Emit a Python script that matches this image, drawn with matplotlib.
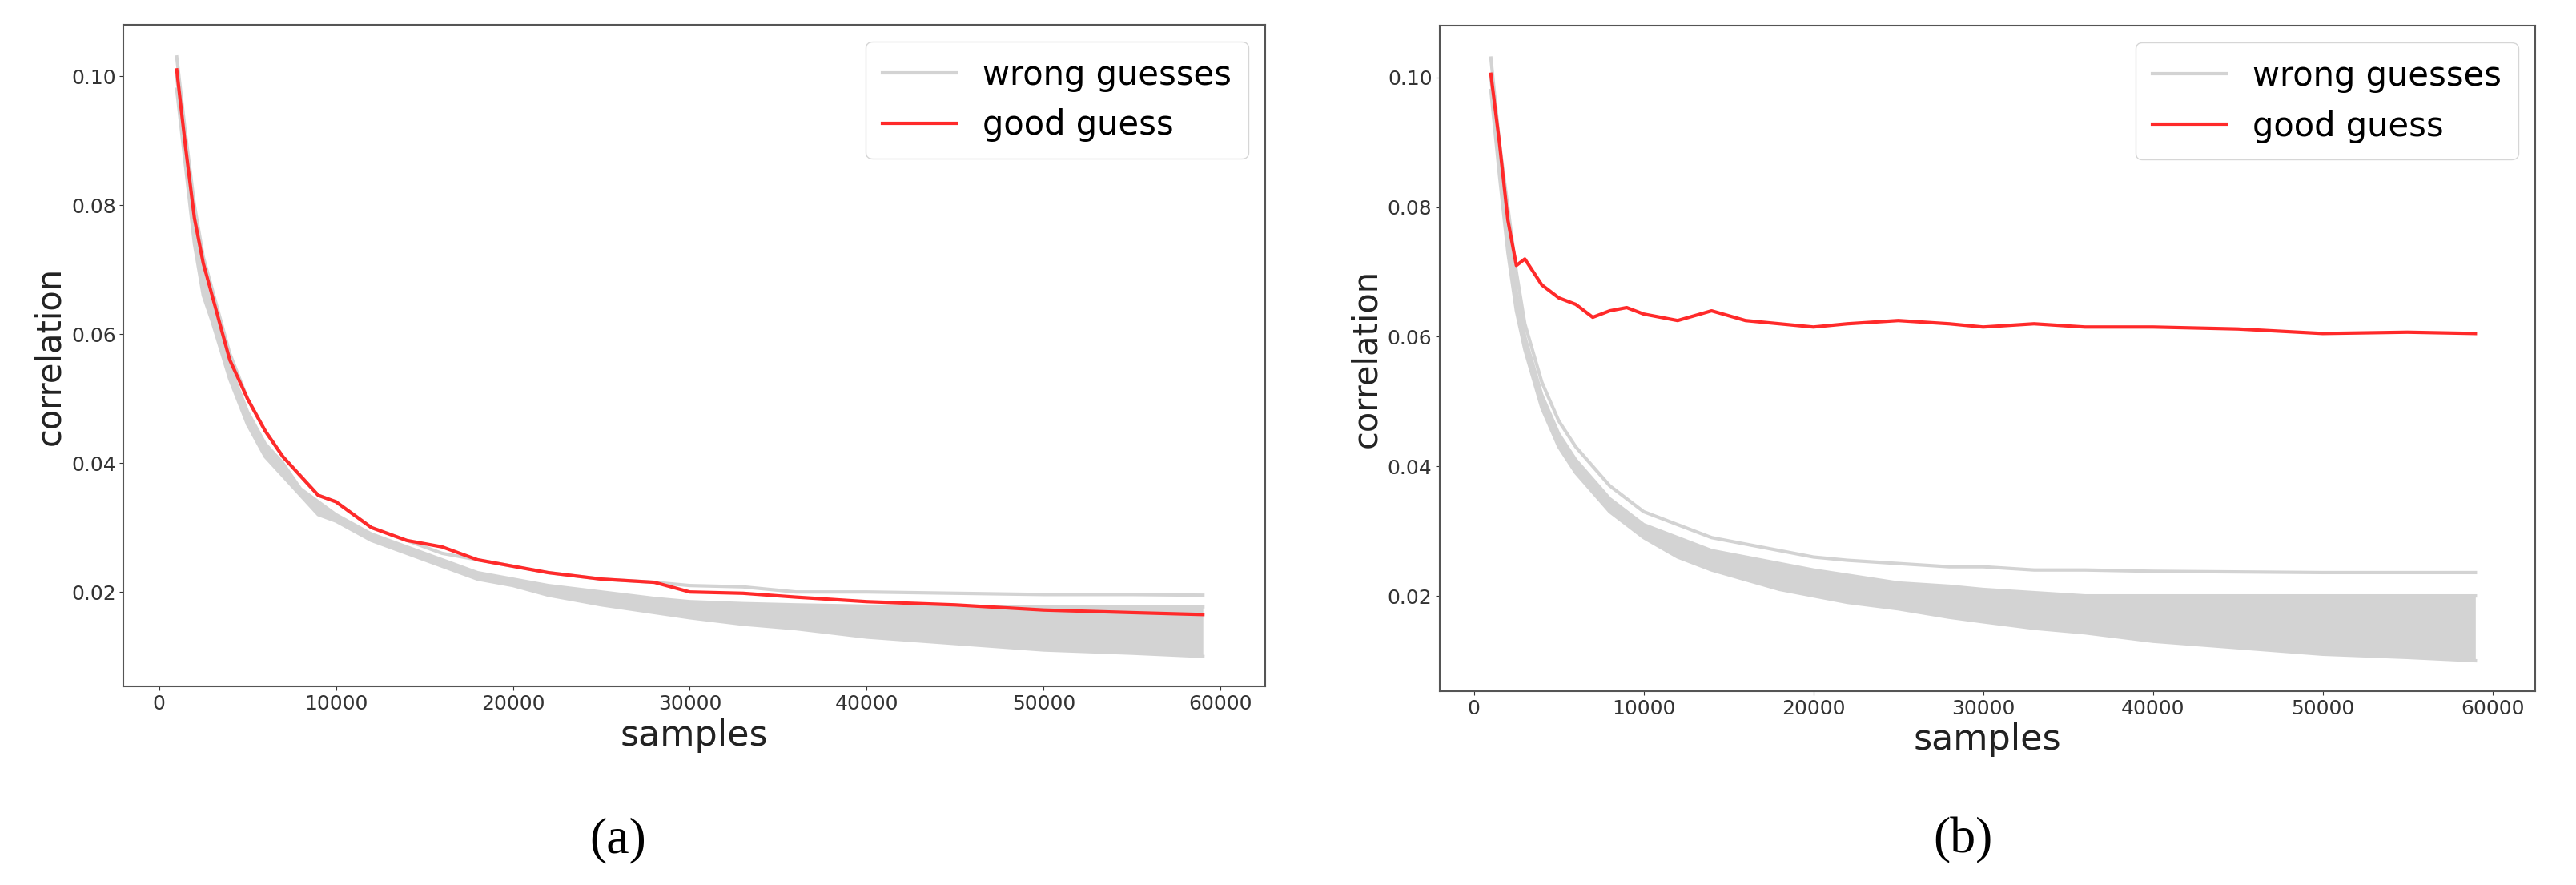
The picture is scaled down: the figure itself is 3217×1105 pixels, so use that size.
import matplotlib
matplotlib.use("Agg")
import matplotlib.pyplot as plt
import numpy as np

samples = [1000, 1500, 2000, 2500, 3000, 4000, 5000, 6000, 7000, 8000, 9000, 10000,
           12000, 14000, 16000, 18000, 20000, 22000, 25000, 28000, 30000, 33000,
           36000, 40000, 45000, 50000, 55000, 59000]

# panel (a)
red_a = [0.101, 0.089, 0.078, 0.071, 0.066, 0.056, 0.050, 0.045, 0.041, 0.038, 0.035, 0.034,
         0.030, 0.028, 0.027, 0.025, 0.024, 0.023, 0.022, 0.0215, 0.020, 0.0198,
         0.0192, 0.0185, 0.018, 0.0172, 0.0168, 0.0165]
gray_a_top = [0.103, 0.091, 0.080, 0.072, 0.067, 0.057, 0.050, 0.045, 0.041, 0.038, 0.035, 0.034,
              0.030, 0.028, 0.026, 0.025, 0.024, 0.023, 0.022, 0.0215, 0.021, 0.0208,
              0.020, 0.020, 0.0198, 0.0196, 0.0196, 0.0195]
gray_a_mid = [0.100, 0.088, 0.077, 0.069, 0.064, 0.055, 0.048, 0.043, 0.040, 0.036, 0.034, 0.032,
              0.029, 0.027, 0.025, 0.023, 0.022, 0.021, 0.020, 0.019, 0.0185, 0.0182,
              0.018, 0.0178, 0.0178, 0.0177, 0.0177, 0.0177]
gray_a_low = [0.098, 0.086, 0.074, 0.066, 0.062, 0.053, 0.046, 0.041, 0.038, 0.035, 0.032, 0.031,
              0.028, 0.026, 0.024, 0.022, 0.021, 0.0195, 0.018, 0.0168, 0.016, 0.015,
              0.0143, 0.013, 0.012, 0.011, 0.0105, 0.010]

# panel (b)
red_b = [0.1005, 0.090, 0.078, 0.071, 0.072, 0.068, 0.066, 0.065, 0.063, 0.064, 0.0645, 0.0635,
         0.0625, 0.064, 0.0625, 0.062, 0.0615, 0.062, 0.0625, 0.062, 0.0615, 0.062,
         0.0615, 0.0615, 0.0612, 0.0605, 0.0607, 0.0605]
gray_b_top = [0.103, 0.090, 0.080, 0.070, 0.062, 0.053, 0.047, 0.043, 0.040, 0.037, 0.035, 0.033,
              0.031, 0.029, 0.028, 0.027, 0.026, 0.0255, 0.025, 0.0245, 0.0245, 0.024,
              0.024, 0.0238, 0.0237, 0.0236, 0.0236, 0.0236]
gray_b_mid = [0.100, 0.087, 0.076, 0.067, 0.060, 0.051, 0.045, 0.041, 0.038, 0.035, 0.033, 0.031,
              0.029, 0.027, 0.026, 0.025, 0.024, 0.0232, 0.022, 0.0215, 0.021, 0.0205,
              0.020, 0.020, 0.020, 0.020, 0.020, 0.020]
gray_b_low = [0.098, 0.085, 0.073, 0.064, 0.058, 0.049, 0.043, 0.039, 0.036, 0.033, 0.031, 0.029,
              0.026, 0.024, 0.0225, 0.021, 0.020, 0.019, 0.018, 0.0167, 0.016, 0.015,
              0.0143, 0.013, 0.012, 0.011, 0.0105, 0.010]

GRAY = "#d3d3d3"
RED = "#ff2a2a"

fig = plt.figure(figsize=(32.17, 11.05), dpi=100)
ax_a = fig.add_axes([0.048, 0.224, 0.443, 0.748])
ax_b = fig.add_axes([0.559, 0.219, 0.425, 0.752])

panels = [
    (ax_a, red_a, gray_a_top, gray_a_mid, gray_a_low, "(a)", 0.24),
    (ax_b, red_b, gray_b_top, gray_b_mid, gray_b_low, "(b)", 0.762),
]
for ax, red, top, mid, low, tag, tx in panels:
    ax.fill_between(samples, low, mid, color=GRAY, lw=0)
    ax.plot(samples, low, color=GRAY, lw=3)
    ax.plot(samples, mid, color=GRAY, lw=3)
    ax.plot(samples, top, color=GRAY, lw=3, label="wrong guesses")
    ax.plot(samples, red, color=RED, lw=3, label="good guess")
    ax.set_xlim(-2000, 62500)
    ax.set_ylim(0.0053, 0.108)
    ax.set_xticks(range(0, 60001, 10000))
    ax.set_yticks([0.02, 0.04, 0.06, 0.08, 0.10])
    ax.set_yticklabels(["0.02", "0.04", "0.06", "0.08", "0.10"])
    ax.tick_params(labelsize=18, colors="#333333")
    ax.set_xlabel("samples", fontsize=32, color="#222222")
    ax.set_ylabel("correlation", fontsize=30, color="#222222")
    ax.legend(loc="upper right", fontsize=30, handlelength=2.2, borderpad=0.5)
    for s in ax.spines.values():
        s.set_color("#555555")
        s.set_linewidth(1.5)
    fig.text(tx, 0.05, tag, fontsize=46, family="Liberation Serif",
             ha="center", va="center")

fig.savefig("out.png", dpi=100)
